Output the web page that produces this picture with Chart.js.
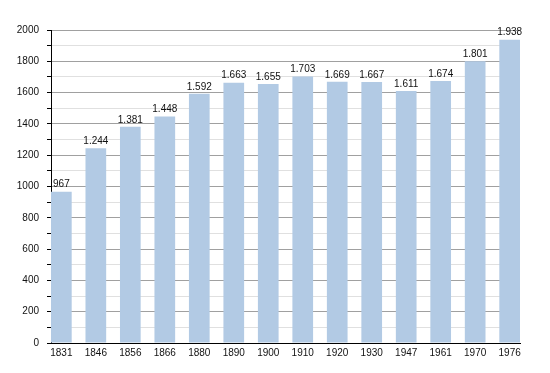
<!DOCTYPE html>
<html>
<head>
<meta charset="utf-8">
<script src="https://cdn.jsdelivr.net/npm/chart.js@4"></script>
<style>
  html, body { margin: 0; padding: 0; background: #fff; }
</style>
</head>
<body>
<canvas id="pop-chart" width="550" height="373"></canvas>
<script>
const years = ['1831', '1846', '1856', '1866', '1880', '1890', '1900', '1910', '1920', '1930', '1947', '1961', '1970', '1976'];
const population = [967, 1244, 1381, 1448, 1592, 1663, 1655, 1703, 1669, 1667, 1611, 1674, 1801, 1938];
const yTicks = [0, 200, 400, 600, 800, 1000, 1200, 1400, 1600, 1800, 2000];

// 1244 -> "1.244"
const fmt = v => String(v).replace(/\B(?=(\d{3})+(?!\d))/g, '.');

const valueLabels = {
  id: 'valueLabels',
  afterDatasetsDraw(chart) {
    const ctx = chart.ctx;
    ctx.save();
    ctx.font = '10px "Liberation Sans", Arial, sans-serif';
    ctx.fillStyle = '#111';
    ctx.textAlign = 'center';
    ctx.textBaseline = 'bottom';
    chart.getDatasetMeta(0).data.forEach((bar, i) => {
      ctx.fillText(fmt(population[i]), bar.x, bar.y - 2);
    });
    ctx.restore();
  }
};

const ctx = document.getElementById('pop-chart');

new Chart(ctx, {
  type: 'bar',
  data: {
    datasets: [{
      data: years.map((y, i) => ({ x: i, y: population[i] })),
      backgroundColor: '#b2cae4',
      borderWidth: 0,
      categoryPercentage: 0.6,
      barPercentage: 1
    }]
  },
  options: {
    responsive: false,
    animation: false,
    devicePixelRatio: 1,
    layout: { padding: { top: 30, right: 30, left: 0, bottom: 0 } },
    plugins: {
      legend: { display: false },
      tooltip: { enabled: false }
    },
    scales: {
      x: {
        type: 'linear',
        offset: false,
        min: -0.3,
        max: 13.3,
        grid: { display: false, drawTicks: false },
        border: { display: true, color: '#000', width: 1 },
        afterFit: s => { s.height = 30; },
        ticks: {
          stepSize: 1,
          includeBounds: false,
          autoSkip: false,
          maxRotation: 0,
          padding: 4,
          color: '#111',
          font: { family: '"Liberation Sans", Arial, sans-serif', size: 10 },
          callback: v => years[v] ?? ''
        }
      },
      y: {
        min: 0,
        max: 2000,
        afterFit: s => { s.width = 51; },
        border: { display: true, color: '#000', width: 1 },
        grid: {
          color: c => (c.tick && c.tick.value % 200 === 0) ? '#a0a0a0' : '#e0e0e0',
          tickColor: '#000',
          tickLength: 4
        },
        ticks: {
          stepSize: 100,
          autoSkip: false,
          padding: 8,
          color: '#111',
          font: { family: '"Liberation Sans", Arial, sans-serif', size: 10 },
          callback: v => yTicks.includes(v) ? v : ''
        }
      }
    }
  },
  plugins: [valueLabels]
});
</script>
</body>
</html>
